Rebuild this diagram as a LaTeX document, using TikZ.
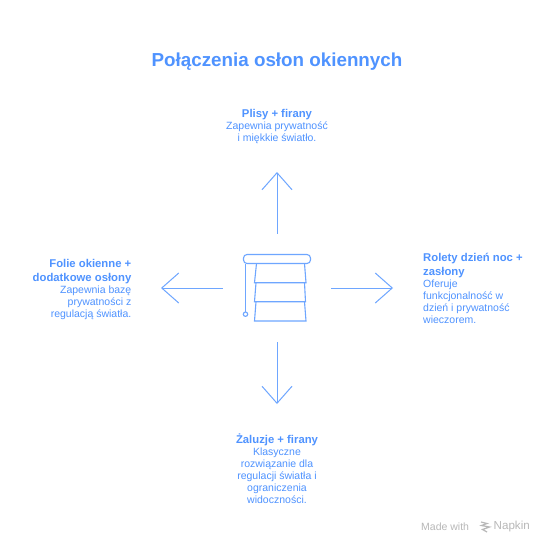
\documentclass[tikz,border=0pt]{standalone}
\usepackage{fontspec}
\setmainfont{Liberation Sans}
\usetikzlibrary{arrows.meta}
\definecolor{napblue}{HTML}{4F93FF}
\definecolor{napline}{HTML}{6EA6FF}
\definecolor{napgrey}{HTML}{B8B8B8}
\tikzset{
  x=1pt,y=-1pt,
  bodytext/.style={text=napblue,inner sep=0pt,font=\fontsize{10.5}{12}\selectfont},
  arrowline/.style={draw=napline,line width=1pt,-{Straight Barb[length=17pt,width=30pt,line width=1pt]}},
  iconline/.style={draw=napline,line width=1.1pt},
  iconbox/.style={minimum width=108pt,minimum height=108pt,inner sep=0pt},
  marktext/.style={text=napgrey,inner sep=0pt,anchor=west,font=\fontsize{10.5}{12}\selectfont},
}
\newcommand{\hd}[1]{{\fontsize{11.3}{12}\selectfont\bfseries #1}}
\begin{document}
\begin{tikzpicture}
\useasboundingbox (0,0) rectangle (554,554);
\fill[white] (0,0) rectangle (554,554);
\node[text=napblue,inner sep=0pt,font=\fontsize{18.8}{22}\selectfont\bfseries] (title) at (277,61.5) {Połączenia osłon okiennych};
% central icon
\node[iconbox] (icon) at (277,288) {};
\draw[iconline,rounded corners=3.5pt] (243.5,254.5) rectangle (310.5,263.5);
\draw[iconline] (256.5,263.5) -- (254.5,282.7) -- (306,282.7) -- (304.5,263.5);
\draw[iconline] (256,282.7) -- (254.5,301.7) -- (305.5,301.7) -- (304.5,282.7);
\draw[iconline] (256,301.7) -- (254.5,321) -- (306,321) -- (304.5,301.7);
\draw[iconline] (245.5,263.5) -- (245.5,312);
\draw[iconline] (245.5,314.2) circle (2.2);
% arrow ends
\coordinate (endtop) at (277,172);
\coordinate (endbottom) at (277,404);
\coordinate (endleft) at (161,288);
\coordinate (endright) at (393,288);
\draw[arrowline] (icon.north) -- (endtop);
\draw[arrowline] (icon.south) -- (endbottom);
\draw[arrowline] (icon.west) -- (endleft);
\draw[arrowline] (icon.east) -- (endright);
% labels
\node[bodytext,align=center,anchor=center] (top) at (277,126) {\hd{Plisy + firany}\\Zapewnia prywatność\\i miękkie światło.};
\node[bodytext,align=center,anchor=center] (bottom) at (277,469) {\hd{Żaluzje + firany}\\Klasyczne\\rozwiązanie dla\\regulacji światła i\\ograniczenia\\widoczności.};
\node[bodytext,align=right,anchor=east] (left) at (131.5,289.3) {\hd{Folie okienne +}\\[1.5pt]\hd{dodatkowe osłony}\\Zapewnia bazę\\prywatności z\\regulacją światła.};
\node[bodytext,align=left,anchor=west] (right) at (423,288.5) {\hd{Rolety dzień noc +}\\[1.5pt]\hd{zasłony}\\Oferuje\\funkcjonalność w\\dzień i prywatność\\wieczorem.};
% watermark
\node[marktext] (made) at (421,526.5) {Made with};
\node[marktext,font=\fontsize{11.6}{12}\selectfont] (napkin) at (493.5,526.5) {Napkin};
\draw[napgrey,line width=1.2pt] (481,522) -- (487,523.5) -- (481.5,525.5) -- (489.5,527) -- (482.5,529.5) -- (487,532);
\end{tikzpicture}
\end{document}
